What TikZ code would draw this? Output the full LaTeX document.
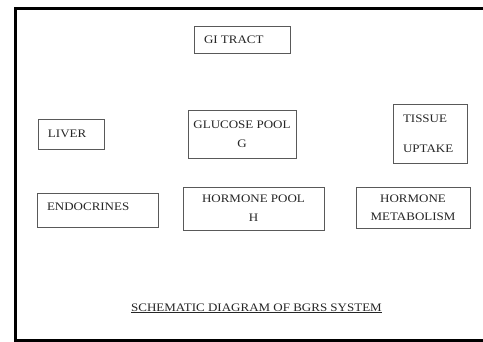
\documentclass[tikz,border=0pt]{standalone}
\usepackage{fontspec}
\setmainfont{Liberation Serif}[FakeStretch=1.13]
\begin{document}
\begin{tikzpicture}[x=1pt,y=-1pt,
  box/.style={draw=black!65, line width=0.9pt, inner sep=0pt,
    font=\fontsize{11.5}{13.8}\selectfont, text=black!85},
  caption/.style={font=\fontsize{11.5}{13.8}\selectfont, text=black!85, anchor=base}]
\useasboundingbox (0,0) rectangle (483,341);
\clip (0,0) rectangle (483,341);
\draw[line width=3pt] (15.5,8.5) rectangle (500,340.5);
\node[box, minimum width=96pt, minimum height=27pt] (gi) at (242,39.5) {\makebox[76pt][l]{GI TRACT}};
\node[box, minimum width=66pt, minimum height=30pt] (liver) at (71,134) {\makebox[46pt][l]{LIVER}};
\node[box, align=center, minimum width=108pt, minimum height=48pt] (glu) at (242,134) {GLUCOSE POOL\\[5.2pt]G};
\node[box, align=left, text width=54pt, minimum width=74pt, minimum height=59pt] (tis) at (430,133.5) {TISSUE\\[16pt]UPTAKE};
\node[box, minimum width=121pt, text height=17pt, text depth=17pt] (endo) at (97.5,210) {\makebox[101pt][l]{ENDOCRINES}};
\node[box, align=center, minimum width=141pt, minimum height=43pt] (hp) at (253.5,208.5) {HORMONE POOL\\[5pt]H};
\node[box, align=center, minimum width=114pt, minimum height=41pt] (hm) at (413,207.5) {HORMONE\\[4pt]METABOLISM};
\node[caption] (cap) at (256.5,311) {\underline{SCHEMATIC DIAGRAM OF BGRS SYSTEM}};
\end{tikzpicture}
\end{document}
